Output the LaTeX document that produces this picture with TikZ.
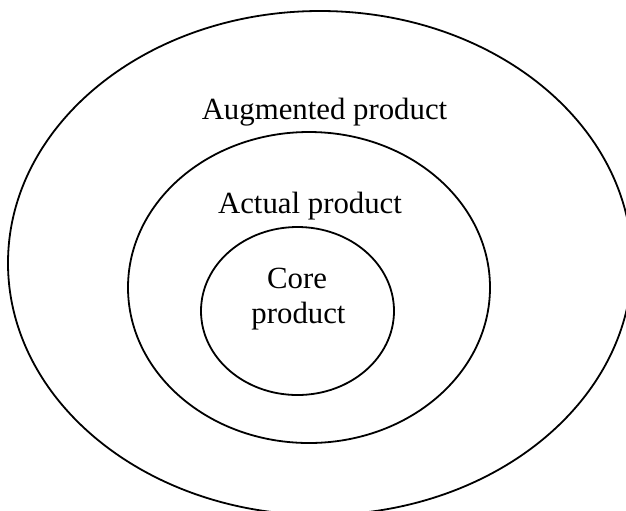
\documentclass[tikz,border=0pt]{standalone}
\usepackage{fontspec}
\setmainfont{Liberation Serif}
\usetikzlibrary{shapes.geometric}
\begin{document}
\begin{tikzpicture}[x=0.5pt, y=-0.5pt,
  ring/.style={draw=black, line width=0.9pt, ellipse, inner sep=0pt, fill=none},
  label/.style={anchor=base, inner sep=0pt, font=\fontsize{15.4}{18}\selectfont}]
  \useasboundingbox (0,0) rectangle (626,510);
  \clip (0,0) rectangle (626,510);
  % three nested levels of the product
  \node[ring, minimum width=312pt, minimum height=252pt] (outer) at (320,263) {};
  \node[ring, minimum width=181pt, minimum height=155.5pt] (middle) at (309,287.5) {};
  \node[ring, minimum width=96.5pt, minimum height=84pt] (inner) at (297.5,311) {};
  % level names
  \node[label] (aug) at (324.5,119) {Augmented product};
  \node[label] (act) at (310,213) {Actual product};
  \node[label] (core1) at (297,288) {Core};
  \node[label] (core2) at (298.5,323) {product};
\end{tikzpicture}
\end{document}
